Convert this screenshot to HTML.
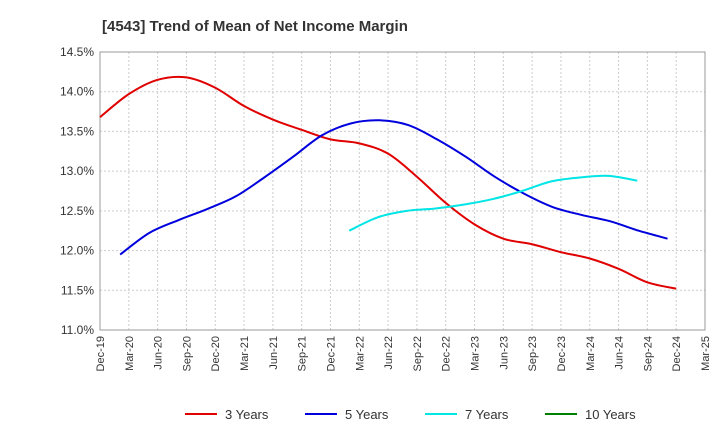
<!DOCTYPE html>
<html><head><meta charset="utf-8"><style>
body{margin:0;background:#fff;font-family:"Liberation Sans",Arial,sans-serif}
</style></head><body>
<svg id="c" width="720" height="440" xmlns="http://www.w3.org/2000/svg">
<text x="102" y="31" font-size="15" font-weight="bold" fill="#333">[4543]  Trend of Mean of Net Income Margin</text>
</svg>
<script>
const xLabels=["Dec-19","Mar-20","Jun-20","Sep-20","Dec-20","Mar-21","Jun-21","Sep-21","Dec-21","Mar-22","Jun-22","Sep-22","Dec-22","Mar-23","Jun-23","Sep-23","Dec-23","Mar-24","Jun-24","Sep-24","Dec-24","Mar-25"];
const yTicks=[11.0,11.5,12.0,12.5,13.0,13.5,14.0,14.5];
const s3=[13.68,13.97,14.15,14.18,14.05,13.82,13.65,13.52,13.40,13.35,13.22,12.93,12.60,12.33,12.15,12.08,11.98,11.90,11.77,11.60,11.52];
const s5=[11.95,12.22,12.38,12.52,12.68,12.92,13.18,13.45,13.60,13.64,13.58,13.40,13.18,12.93,12.72,12.55,12.45,12.37,12.25,12.15];
const s7=[12.25,12.42,12.50,12.53,12.58,12.65,12.75,12.87,12.92,12.94,12.88];
const s10=[];
const start3=0,start5=0.7,start7=8.65,start10=0;
const L=100,R=705,T=52,B=330,ymin=11,ymax=14.5;
const X=i=>L+(R-L)*i/(xLabels.length-1);
const Y=v=>B-(B-T)*(v-ymin)/(ymax-ymin);
const svg=document.getElementById('c');
const NS="http://www.w3.org/2000/svg";
function mk(t,a){const e=document.createElementNS(NS,t);for(const k in a)e.setAttribute(k,a[k]);svg.appendChild(e);return e;}
yTicks.forEach(v=>{
 const g=mk('line',{x1:L,x2:R,y1:Y(v),y2:Y(v),stroke:'#ccc','stroke-dasharray':'2,2'});
 
 
 const t=mk('text',{x:L-6,y:Y(v)+4,'text-anchor':'end','font-size':12,fill:'#333'});
 t.textContent=v.toFixed(1)+'%';
 
 
});
xLabels.forEach((s,i)=>{
 const g=mk('line',{x1:X(i),x2:X(i),y1:T,y2:B,stroke:'#ccc','stroke-dasharray':'2,2'});
 
 
 const t=mk('text',{x:0,y:0,'text-anchor':'end','font-size':11,fill:'#333',transform:`translate(${X(i)+4},${B+6}) rotate(-90)`});
 t.textContent=s;
 
 
});
const f=mk('rect',{x:L,y:T,width:R-L,height:B-T,fill:'none',stroke:'#999'});


function path(vals,st){
 const p=vals.map((v,i)=>[X(st+i),Y(v)]);
 if(p.length<2)return '';
 let d=`M${p[0][0]},${p[0][1]}`;
 for(let i=0;i<p.length-1;i++){
  const p0=p[i-1]||p[i],p1=p[i],p2=p[i+1],p3=p[i+2]||p2;
  d+=`C${p1[0]+(p2[0]-p0[0])/6},${p1[1]+(p2[1]-p0[1])/6} ${p2[0]-(p3[0]-p1[0])/6},${p2[1]-(p3[1]-p1[1])/6} ${p2[0]},${p2[1]}`;
 }
 return d;
}
[[s3,start3,'#e00000','line-3-years'],[s5,start5,'#0000dd','line-5-years'],[s7,start7,'#00e5e5','line-7-years'],[s10,start10,'#008000','line-10-years']].forEach(([v,st,c,n])=>{
 const e=mk('path',{d:path(v,st),fill:'none',stroke:c,'stroke-width':2});
 
 
});
const leg=[['3 Years','#e00000',185],['5 Years','#0000dd',305],['7 Years','#00e5e5',425],['10 Years','#008000',545]];
leg.forEach(([s,c,x])=>{
 const l=mk('line',{x1:x,x2:x+32,y1:414,y2:414,stroke:c,'stroke-width':2});
 
 
 const t=mk('text',{x:x+40,y:419,'font-size':13,fill:'#333'});
 t.textContent=s;
 
 
});
</script>
</body></html>
